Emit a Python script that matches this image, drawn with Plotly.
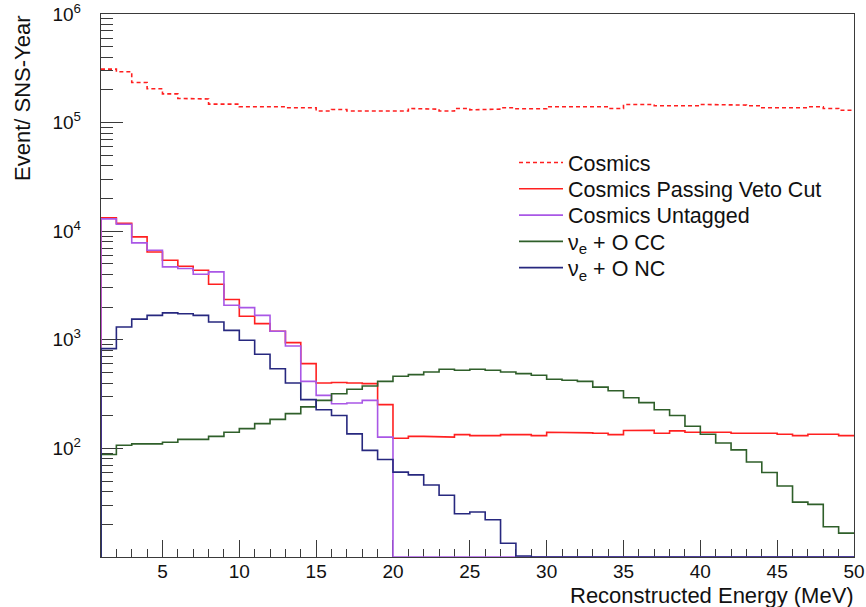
import plotly.graph_objects as go

# 1 MeV bins covering 1-50 MeV
bin_edges = list(range(1, 51))

# Events per SNS-year in each reconstructed-energy bin
cosmics = [
    311000, 294000, 234000, 205000, 184000, 167000, 165000, 148000, 148000, 140000,
    140000, 140000, 137000, 137000, 128000, 132000, 128000, 128000, 128000, 128000,
    135000, 133000, 128000, 135000, 131000, 133000, 137000, 134000, 134000, 140000,
    140000, 140000, 140000, 135000, 147000, 147000, 143000, 143000, 143000, 147000,
    146000, 145000, 143000, 137000, 137000, 137000, 140000, 135000, 130000,
]
cosmics_veto = [
    13300, 11800, 8870, 6440, 5400, 4760, 4370, 3250, 2350, 1650,
    1410, 1200, 942, 604, 400, 405, 400, 395, 253, 124,
    129, 129, 127, 134, 131, 131, 134, 134, 131, 141,
    139, 139, 138, 134, 146, 147, 138, 145, 141, 141,
    141, 138, 138, 138, 135, 131, 135, 135, 131,
]
cosmics_untagged = [
    13000, 11600, 7800, 6680, 4690, 4530, 4020, 4220, 2080, 1980,
    1680, 1200, 877, 414, 308, 258, 262, 277, 127, 0,
    0, 0, 0, 0, 0, 0, 0, 0, 0, 0,
    0, 0, 0, 0, 0, 0, 0, 0, 0, 0,
    0, 0, 0, 0, 0, 0, 0, 0, 0,
]
nue_o_cc = [
    88, 107, 110, 110, 114, 121, 121, 129, 141, 152,
    169, 185, 209, 241, 277, 319, 350, 375, 414, 461,
    478, 505, 535, 524, 535, 524, 505, 488, 471, 433,
    424, 414, 367, 340, 293, 264, 227, 201, 160, 135,
    112, 97, 75, 60, 45, 32, 30.5, 19, 16.6,
]
nue_o_nc = [
    830, 1310, 1550, 1680, 1770, 1740, 1680, 1460, 1220, 989,
    735, 542, 400, 281, 227, 201, 136, 96, 79, 60.5,
    57, 46, 37, 25, 26, 22, 13.4, 10.2, 0, 0,
    0, 0, 0, 0, 0, 0, 0, 0, 0, 0,
    0, 0, 0, 0, 0, 0, 0, 0, 0,
]

Y_FLOOR = 10  # lower edge of the log axis; empty bins sit on it
FONT = "Liberation Sans, Arial, Helvetica, sans-serif"
TEXT = "#111111"
AXIS = "#3a3a3a"


def step_outline(values, from_floor=True):
    """Histogram outline: optional rise from the floor, then a flat top per bin."""
    xs, ys = [], []
    if from_floor:
        xs.append(bin_edges[0])
        ys.append(Y_FLOOR)
    for i, v in enumerate(values):
        h = v if v > 0 else Y_FLOOR
        left = bin_edges[i]
        xs += [left, left + 1]
        ys += [h, h]
    return xs, ys


series = [
    ("Cosmics", cosmics, "#ff1f1f", "4px,3px", False),
    ("Cosmics Passing Veto Cut", cosmics_veto, "#ff2020", "solid", True),
    ("Cosmics Untagged", cosmics_untagged, "#a957e6", "solid", True),
    ("\u03bd<sub>e</sub> + O CC", nue_o_cc, "#2f5f2a", "solid", True),
    ("\u03bd<sub>e</sub> + O NC", nue_o_nc, "#27287f", "solid", True),
]

# plot-area geometry in pixels (used to place the legend rows)
FIG_W, FIG_H = 866, 607
M_L, M_R, M_T, M_B = 101, 12, 14, 50
PLOT_H = FIG_H - M_T - M_B
PLOT_W = FIG_W - M_L - M_R

fig = go.Figure()
legend_layout = {}
for idx, (name, vals, color, dash, from_floor) in enumerate(series):
    xs, ys = step_outline(vals, from_floor)
    legend_id = "legend" if idx == 0 else f"legend{idx + 1}"
    fig.add_trace(go.Scatter(
        x=xs, y=ys, mode="lines", name=name, legend=legend_id,
        line=dict(color=color, width=1.6, dash=dash),
    ))
    row_center_px = 162.5 + 26.3 * idx
    legend_layout[legend_id] = dict(
        x=(514 - M_L) / PLOT_W,
        y=(FIG_H - M_B - row_center_px) / PLOT_H,
        xanchor="left", yanchor="middle",
        bgcolor="rgba(0,0,0,0)", borderwidth=0,
        font=dict(family=FONT, size=21.5, color=TEXT),
        itemwidth=44,
    )

major_y = [1e2, 1e3, 1e4, 1e5, 1e6]
major_y_text = ["10<sup>2</sup>", "10<sup>3</sup>", "10<sup>4</sup>",
                "10<sup>5</sup>", "10<sup>6</sup>"]
minor_y = [m * 10 ** k for k in range(1, 6) for m in range(2, 10)]

axis_common = dict(
    showline=True, mirror=True, linecolor=AXIS, linewidth=1.4,
    showgrid=False, zeroline=False, ticks="inside", tickcolor=AXIS,
    tickwidth=1.2, layer="below traces", automargin=False,
    tickfont=dict(family=FONT, size=19, color=TEXT),
)

fig.update_xaxes(
    range=[1, 50], tickmode="linear", tick0=0, dtick=5, ticklen=17,
    minor=dict(ticks="inside", dtick=1, tick0=0, ticklen=8,
               tickcolor=AXIS, tickwidth=1.2, showgrid=False),
    ticklabelstandoff=-3,
    **axis_common,
)
fig.update_yaxes(
    type="log", range=[1, 6], tickmode="array", tickvals=major_y,
    ticktext=major_y_text, ticklen=22,
    minor=dict(ticks="inside", tickmode="array", tickvals=minor_y, ticklen=12,
               tickcolor=AXIS, tickwidth=1.2, showgrid=False),
    ticklabelstandoff=15,
    **axis_common,
)

fig.add_annotation(
    text="Event/ SNS-Year", textangle=-90, showarrow=False,
    xref="paper", yref="paper", x=0, y=1, xanchor="center", yanchor="top",
    xshift=-79, yshift=1, font=dict(family=FONT, size=22, color=TEXT),
)
fig.add_annotation(
    text="Reconstructed Energy (MeV)", showarrow=False,
    xref="paper", yref="paper", x=1, y=0, xanchor="right", yanchor="middle",
    xshift=2, yshift=-38, font=dict(family=FONT, size=22, color=TEXT),
)

fig.update_layout(
    width=FIG_W, height=FIG_H,
    margin=dict(l=M_L, r=M_R, t=M_T, b=M_B, autoexpand=False),
    paper_bgcolor="white", plot_bgcolor="white",
    font=dict(family=FONT, size=19, color=TEXT),
    showlegend=True,
    **legend_layout,
)

fig.write_html("out.html")
